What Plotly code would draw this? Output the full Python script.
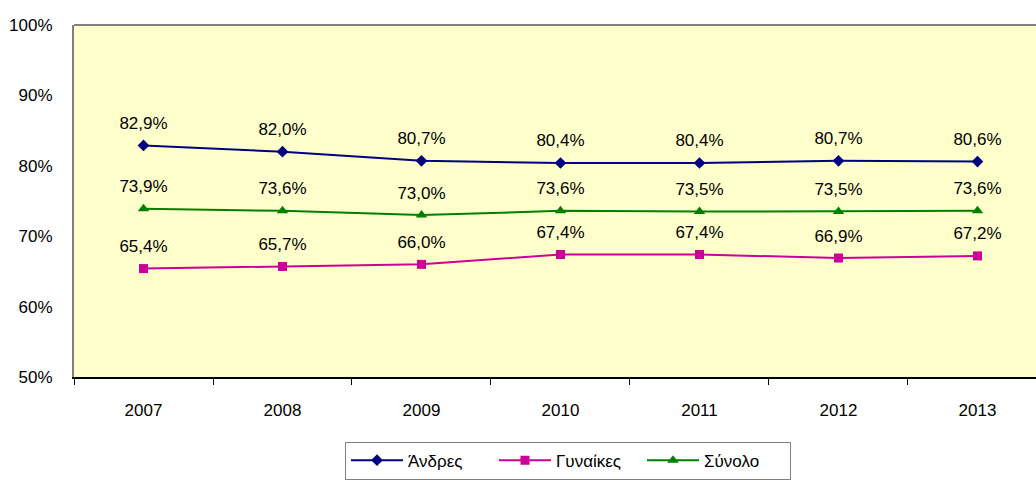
import plotly.graph_objects as go

years = ["2007", "2008", "2009", "2010", "2011", "2012", "2013"]
men = [82.9, 82.0, 80.7, 80.4, 80.4, 80.7, 80.6]
women = [65.4, 65.7, 66.0, 67.4, 67.4, 66.9, 67.2]
total = [73.9, 73.6, 73.0, 73.6, 73.5, 73.5, 73.6]
series_names = ["Άνδρες", "Γυναίκες", "Σύνολο"]
y_ticks = [50, 60, 70, 80, 90, 100]
y_tick_text = ["50%", "60%", "70%", "80%", "90%", "100%"]

FONT = "Liberation Sans, Arial, sans-serif"
styles = [
    dict(color="#000080", symbol="diamond", size=9),
    dict(color="#CC0099", symbol="square", size=9),
    dict(color="#008000", symbol="triangle-up", size=10),
]

fig = go.Figure()
for name, vals, st in zip(series_names, [men, women, total], styles):
    fig.add_trace(go.Scatter(
        x=years, y=vals, name=name, mode="lines+markers",
        line=dict(color=st["color"], width=2),
        marker=dict(color=st["color"], symbol=st["symbol"], size=st["size"]),
        hoverinfo="skip",
    ))
for vals in [men, women, total]:
    labels = [f"{v:.1f}%".replace(".", ",") for v in vals]
    fig.add_trace(go.Scatter(
        x=years, y=vals, mode="markers+text", text=labels,
        textposition="top center",
        textfont=dict(family=FONT, size=17, color="#000000"),
        marker=dict(size=18, opacity=0),
        showlegend=False, hoverinfo="skip", cliponaxis=False,
    ))

fig.update_layout(
    width=1036, height=480,
    margin=dict(l=74, r=0, t=25, b=101),
    paper_bgcolor="#FFFFFF",
    plot_bgcolor="#FFFFCC",
    font=dict(family=FONT, size=17, color="#000000"),
    showlegend=True,
    legend=dict(
        orientation="h", x=(345 - 74) / 962, y=(379 - 444) / 354,
        xanchor="left", yanchor="top",
        bordercolor="#808080", borderwidth=1, bgcolor="#FFFFFF",
        font=dict(family=FONT, size=17), itemwidth=52,
        entrywidth=81, entrywidthmode="pixels",
    ),
    xaxis=dict(
        type="category", range=[-0.5, 6.421],
        tickson="boundaries", ticks="outside", ticklen=6, tickcolor="#000000",
        showline=True, linecolor="#000000", linewidth=2,
        showgrid=False, zeroline=False, ticklabelstandoff=17,
    ),
    yaxis=dict(
        range=[50, 100], tickmode="array", tickvals=y_ticks, ticktext=y_tick_text,
        showline=True, linecolor="#808080", linewidth=2,
        showgrid=False, zeroline=False, ticks="", ticklabelstandoff=16,
    ),
    shapes=[dict(type="line", xref="paper", yref="paper", x0=0, x1=1, y0=1, y1=1,
                 line=dict(color="#808080", width=2))],
)

fig.write_html("out.html", post_script="document.body.style.margin='0';",
               config={"displayModeBar": False})
